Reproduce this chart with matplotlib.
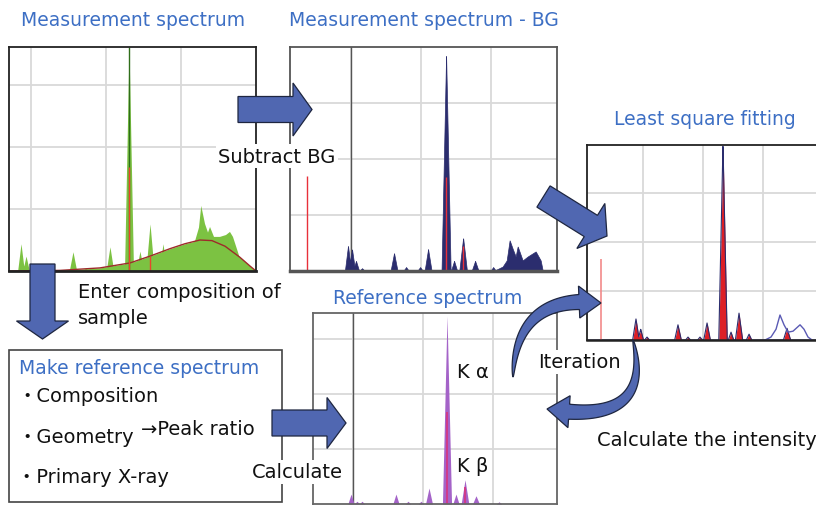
import numpy as np
import matplotlib.pyplot as plt
from matplotlib.patches import FancyArrow, Rectangle, Polygon

plt.rcParams['font.family'] = ['DejaVu Sans', 'Noto Sans CJK JP']

W, H = 816, 506

# measurement spectrum (grid units: vertical grid lines at x=1,2,3)
meas_peak_x = [0.867, 0.934, 1.56, 1.73, 2.053, 2.307, 2.453, 2.587, 2.76]
meas_peak_h = [0.44, 0.24, 0.31, 0.05, 0.39, 3.61, 0.32, 0.76, 0.44]
meas_peak_w = [0.045, 0.045, 0.05, 0.04, 0.05, 0.06, 0.05, 0.055, 0.05]
meas_hump_x = [2.787, 2.853, 2.987, 3.093, 3.187, 3.24, 3.27, 3.32, 3.36, 3.387, 3.44,
               3.52, 3.60, 3.653, 3.693, 3.747, 3.80, 3.867, 3.92]
meas_hump_y = [0, 0.10, 0.23, 0.35, 0.48, 0.70, 1.05, 0.76, 0.62, 0.71, 0.55,
               0.55, 0.58, 0.63, 0.55, 0.35, 0.15, 0.03, 0]
bg_x = [0.707, 1.387, 1.92, 2.32, 2.587, 2.853, 3.053, 3.253, 3.413, 3.587, 3.787, 3.92, 4.0]
bg_y = [0, 0.01, 0.05, 0.13, 0.24, 0.36, 0.44, 0.50, 0.49, 0.40, 0.22, 0.08, 0]
meas_red_x = [2.307, 2.587]
meas_red_h = [1.68, 0.24]

# measurement - BG
net_peak_x = [0.957, 1.014, 1.071, 1.157, 1.614, 1.786, 1.986, 2.10, 2.357, 2.471, 2.60, 2.771, 3.029]
net_peak_h = [0.45, 0.39, 0.18, 0.05, 0.32, 0.07, 0.07, 0.39, 3.86, 0.18, 0.59, 0.18, 0.07]
net_peak_w = [0.045, 0.045, 0.045, 0.04, 0.05, 0.04, 0.04, 0.05, 0.065, 0.045, 0.055, 0.05, 0.04]
net_hump_x = [3.057, 3.171, 3.229, 3.271, 3.314, 3.357, 3.386, 3.457, 3.529, 3.643, 3.714, 3.743]
net_hump_y = [0, 0.07, 0.18, 0.54, 0.39, 0.25, 0.43, 0.18, 0.25, 0.34, 0.18, 0]
net_red_x = [0.372, 2.357, 2.60]
net_red_h = [1.70, 1.68, 0.45]

# least square fitting
fit_peak_x = [0.883, 0.962, 1.067, 1.583, 1.75, 1.95, 2.067, 2.333, 2.467, 2.60, 2.767, 3.40]
fit_peak_h = [0.43, 0.22, 0.06, 0.31, 0.06, 0.06, 0.35, 3.98, 0.16, 0.55, 0.12, 0.24]
fit_peak_w = [0.055, 0.045, 0.04, 0.055, 0.04, 0.04, 0.055, 0.07, 0.045, 0.06, 0.045, 0.06]
fit_hump_x = [3.033, 3.133, 3.217, 3.283, 3.35, 3.417, 3.50, 3.617, 3.683, 3.75, 3.817]
fit_hump_y = [0, 0.06, 0.22, 0.51, 0.31, 0.16, 0.18, 0.31, 0.22, 0.06, 0]
fit_red_x = [0.30]
fit_red_h = [1.65]

# reference spectrum
ref_peak_x = [0.972, 1.057, 1.129, 1.614, 1.786, 1.971, 2.086, 2.343, 2.471, 2.60, 2.757, 3.086]
ref_peak_h = [0.18, 0.05, 0.05, 0.18, 0.05, 0.05, 0.29, 3.42, 0.18, 0.44, 0.15, 0.04]
ref_peak_w = [0.045, 0.04, 0.04, 0.045, 0.04, 0.04, 0.05, 0.065, 0.045, 0.055, 0.05, 0.04]
ref_line_x = [2.343, 2.60]
ref_line_h = [1.67, 0.30]

blue = '#3d6fc4'
arrow_fc = '#5067b1'
arrow_ec = '#1e2640'


def envelope(xs, hs, ws, grid):
    y = np.zeros_like(grid)
    for c, h, w in zip(xs, hs, ws):
        y = np.maximum(y, h * np.clip(1 - np.abs(grid - c) / w, 0, None))
    return y


def panel(box, xlim, ylim, spine_col):
    x0, y0, x1, y1 = box
    ax = fig.add_axes([x0 / W, 1 - y1 / H, (x1 - x0) / W, (y1 - y0) / H])
    ax.set_xlim(xlim)
    ax.set_ylim(ylim)
    ax.set_xticks([1, 2, 3])
    ax.set_yticks([1, 2, 3])
    ax.tick_params(length=0, labelbottom=False, labelleft=False)
    ax.grid(color='#d9d9d9', lw=1.3)
    ax.set_axisbelow(True)
    for s in ax.spines.values():
        s.set_color(spine_col)
        s.set_linewidth(1.3)
    return ax


def curved_arrow(ax, p0, pc, p1, body_w, head_w, head_len):
    p0, pc, p1 = map(np.array, (p0, pc, p1))
    t = np.linspace(0, 1, 400)[:, None]
    pts = (1 - t) ** 2 * p0 + 2 * (1 - t) * t * pc + t ** 2 * p1
    tan = 2 * (1 - t) * (pc - p0) + 2 * t * (p1 - pc)
    tan = tan / np.linalg.norm(tan, axis=1, keepdims=True)
    nrm = np.column_stack([-tan[:, 1], tan[:, 0]])
    k = np.argmin(np.abs(np.linalg.norm(pts - p1, axis=1) - head_len))
    tt = t[:k + 1, 0] / t[k, 0]
    wid = body_w / 2 * tt ** 0.6
    left = pts[:k + 1] + nrm[:k + 1] * wid[:, None]
    right = pts[:k + 1] - nrm[:k + 1] * wid[:, None]
    hl = pts[k] + nrm[k] * head_w / 2
    hr = pts[k] - nrm[k] * head_w / 2
    verts = np.vstack([left, hl, p1, hr, right[::-1]])
    ax.add_patch(Polygon(verts, closed=True, fc=arrow_fc, ec=arrow_ec, lw=0.9))


fig = plt.figure(figsize=(W / 100, H / 100), dpi=100)

# panel 1: measurement spectrum
ax1 = panel((9, 48, 256, 272), (0.707, 4.0), (0, 3.613), '#222222')
g1 = np.linspace(0.707, 4.0, 3000)
green = '#7cc242'
ax1.fill_between(bg_x, bg_y, color=green, lw=0)
ax1.fill_between(g1, envelope(meas_peak_x, meas_peak_h, meas_peak_w, g1), color=green, lw=0)
ax1.fill(meas_hump_x, meas_hump_y, color=green, lw=0)
ax1.plot(bg_x, bg_y, color='#9e2a2a', lw=1)
ax1.vlines(meas_peak_x[5], 0, meas_peak_h[5], color='#2f6e1a', lw=1)
ax1.vlines(meas_red_x, 0, meas_red_h, color='#e8452c', lw=1)
ax1.spines['bottom'].set_linewidth(2)

# panel 2: measurement - BG
ax2 = panel((290, 48, 557, 272), (0.129, 3.94), (0, 4.0), '#555555')
g2 = np.linspace(0.129, 3.94, 3000)
navy = '#2b2d6e'
ax2.axvline(1, color='#555555', lw=1, zorder=1)
ax2.fill_between(g2, envelope(net_peak_x, net_peak_h, net_peak_w, g2), color=navy, lw=0.5)
ax2.fill(net_hump_x, net_hump_y, color=navy, lw=0.5)
ax2.vlines(net_red_x, 0, net_red_h, color='#e8303a', lw=1)
ax2.spines['bottom'].set_linewidth(2.5)

# panel 3: least square fitting
ax3 = panel((587, 146, 822, 341), (0.067, 3.983), (0, 3.98), '#222222')
g3 = np.linspace(0.067, 3.983, 3000)
fit_env = envelope(fit_peak_x, fit_peak_h, fit_peak_w, g3)
ax3.fill_between(g3, fit_env, color='#dd1f26', lw=0)
ax3.plot(g3, fit_env, color=navy, lw=0.8)
ax3.plot(fit_hump_x, fit_hump_y, color='#5a5ab4', lw=1)
ax3.vlines(fit_red_x, 0, fit_red_h, color='#f28a8a', lw=1.2)
ax3.spines['bottom'].set_linewidth(1.8)

# panel 4: reference spectrum
ax4 = panel((313, 314, 557, 505), (0.429, 3.914), (0, 3.47), '#666666')
g4 = np.linspace(0.429, 3.914, 3000)
ax4.axvline(1, color='#555555', lw=1, zorder=1)
ax4.fill_between(g4, envelope(ref_peak_x, ref_peak_h, ref_peak_w, g4), color='#a463c8', lw=0)
ax4.vlines(ref_line_x, 0, ref_line_h, color='#d8337f', lw=1.2)

# overlay for arrows and labels (pixel coordinates)
ov = fig.add_axes([0, 0, 1, 1])
ov.set_xlim(0, W)
ov.set_ylim(H, 0)
ov.axis('off')
ov.set_zorder(10)

ov.add_patch(Rectangle((9, 351), 273, 152, fc='none', ec='#444444', lw=1.2))

arrows = [
    (238, 110.5, 74, 0, 26, 53, 19),
    (42.5, 265, 0, 75, 25, 52, 18),
    (272, 424, 74, 0, 26, 51, 19),
    (543.5, 197.5, 63.5, 39.5, 25, 53, 19),
]
for x, y, dx, dy, w, hw, hl in arrows:
    ov.add_patch(FancyArrow(x, y, dx, dy, width=w, head_width=hw, head_length=hl,
                            length_includes_head=True, fc=arrow_fc, ec=arrow_ec, lw=0.9))

curved_arrow(ov, (513, 378), (516, 294), (601, 304), 15, 32, 22)
curved_arrow(ov, (633, 341), (654, 428), (547, 410), 15, 32, 22)

box = dict(fc='white', ec='none', pad=1.5)
ov.text(133, 20, 'Measurement spectrum', color=blue, fontsize=13.5, ha='center', va='center')
ov.text(424, 20, 'Measurement spectrum - BG', color=blue, fontsize=13.5, ha='center', va='center')
ov.text(705, 119, 'Least square fitting', color=blue, fontsize=13.5, ha='center', va='center')
ov.text(428, 298, 'Reference spectrum', color=blue, fontsize=13.5, ha='center', va='center')
ov.text(19, 368, 'Make reference spectrum', color=blue, fontsize=13.5, ha='left', va='center')

ov.text(277, 157, 'Subtract BG', fontsize=14, ha='center', va='center', color='#111111', bbox=box)
ov.text(78, 293, 'Enter composition of', fontsize=14, ha='left', va='center', color='#111111')
ov.text(78, 319, 'sample', fontsize=14, ha='left', va='center', color='#111111')
ov.text(17, 397, '・Composition', fontsize=14, ha='left', va='center', color='#111111')
ov.text(17, 438, '・Geometry', fontsize=14, ha='left', va='center', color='#111111')
ov.text(141, 430, '→Peak ratio', fontsize=14, ha='left', va='center', color='#111111')
ov.text(17, 478, '・Primary X-ray', fontsize=14, ha='left', va='center', color='#111111')
ov.text(297, 473, 'Calculate', fontsize=14, ha='center', va='center', color='#111111', bbox=box)
ov.text(457, 373, 'K α', fontsize=14, ha='left', va='center', color='#111111')
ov.text(457, 467, 'K β', fontsize=14, ha='left', va='center', color='#111111')
ov.text(579, 363, 'Iteration', fontsize=14, ha='center', va='center', color='#111111', bbox=box)
ov.text(597, 441, 'Calculate the intensity', fontsize=14, ha='left', va='center', color='#111111')

fig.savefig('out.png', dpi=100, facecolor='white')
